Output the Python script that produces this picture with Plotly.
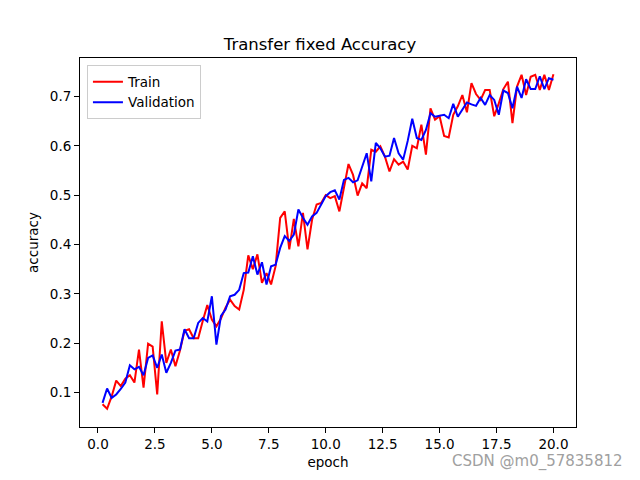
import plotly.graph_objects as go

epochs = [round(0.2 * i, 1) for i in range(1, 101)]

train_acc = [
    0.076, 0.067, 0.092, 0.124, 0.113, 0.128, 0.135, 0.120, 0.187, 0.110,
    0.199, 0.193, 0.096, 0.244, 0.160, 0.187, 0.153, 0.185, 0.225, 0.228,
    0.210, 0.210, 0.245, 0.277, 0.248, 0.234, 0.250, 0.272, 0.288, 0.275,
    0.268, 0.308, 0.378, 0.350, 0.380, 0.322, 0.342, 0.319, 0.356, 0.454,
    0.467, 0.390, 0.452, 0.396, 0.464, 0.390, 0.450, 0.481, 0.484, 0.500,
    0.494, 0.498, 0.467, 0.515, 0.563, 0.541, 0.499, 0.524, 0.514, 0.592,
    0.588, 0.599, 0.578, 0.548, 0.573, 0.562, 0.568, 0.552, 0.600, 0.595,
    0.643, 0.582, 0.676, 0.653, 0.660, 0.620, 0.617, 0.663, 0.680, 0.703,
    0.668, 0.727, 0.705, 0.693, 0.713, 0.713, 0.660, 0.686, 0.715, 0.730,
    0.646, 0.720, 0.744, 0.703, 0.740, 0.744, 0.713, 0.744, 0.713, 0.745,
]

val_acc = [
    0.079, 0.108, 0.089, 0.096, 0.107, 0.120, 0.155, 0.147, 0.152, 0.135,
    0.170, 0.175, 0.150, 0.177, 0.140, 0.160, 0.185, 0.187, 0.228, 0.210,
    0.210, 0.241, 0.251, 0.244, 0.295, 0.197, 0.255, 0.268, 0.295, 0.298,
    0.308, 0.342, 0.343, 0.376, 0.339, 0.364, 0.319, 0.356, 0.359, 0.393,
    0.417, 0.407, 0.420, 0.471, 0.454, 0.440, 0.457, 0.464, 0.481, 0.498,
    0.506, 0.510, 0.491, 0.531, 0.535, 0.526, 0.530, 0.560, 0.585, 0.528,
    0.606, 0.595, 0.578, 0.580, 0.616, 0.585, 0.572, 0.610, 0.655, 0.616,
    0.612, 0.632, 0.666, 0.659, 0.661, 0.663, 0.656, 0.685, 0.659, 0.673,
    0.688, 0.684, 0.681, 0.697, 0.683, 0.703, 0.693, 0.663, 0.712, 0.707,
    0.676, 0.720, 0.697, 0.735, 0.715, 0.715, 0.741, 0.715, 0.737, 0.734,
]

x_ticks = [0, 2.5, 5, 7.5, 10, 12.5, 15, 17.5, 20]
y_ticks = [0.1, 0.2, 0.3, 0.4, 0.5, 0.6, 0.7]

FONT = "DejaVu Sans"

fig = go.Figure()
fig.add_trace(go.Scatter(x=epochs, y=train_acc, mode="lines", name="Train",
                         line=dict(color="#ff0000", width=2)))
fig.add_trace(go.Scatter(x=epochs, y=val_acc, mode="lines", name="Validation",
                         line=dict(color="#0000ff", width=2)))

axis_common = dict(showgrid=False, zeroline=False, showline=True, linecolor="black",
                   linewidth=1, mirror=True, ticks="outside", ticklen=5, tickwidth=1,
                   tickcolor="black", tickfont=dict(family=FONT, size=13.5, color="black"))

fig.update_layout(
    width=640, height=480,
    margin=dict(l=80, r=64, t=57.6, b=52.8),
    paper_bgcolor="white", plot_bgcolor="white",
    font=dict(family=FONT, color="black"),
    title=dict(text="Transfer fixed Accuracy", x=0.5, xanchor="center",
               y=1 - 44 / 480, yanchor="middle", yref="container",
               font=dict(family=FONT, size=16.5, color="black")),
    xaxis=dict(range=[-0.79, 20.99], tickvals=x_ticks, tickformat=".1f",
               title=dict(text="epoch", font=dict(family=FONT, size=13.5), standoff=6),
               **axis_common),
    yaxis=dict(range=[0.030, 0.778], tickvals=y_ticks, tickformat=".1f",
               title=dict(text="accuracy", font=dict(family=FONT, size=13.5), standoff=8),
               **axis_common),
    legend=dict(x=0.014, y=0.98, xanchor="left", yanchor="top",
                bgcolor="rgba(255,255,255,0.8)", bordercolor="#cccccc", borderwidth=1,
                font=dict(family=FONT, size=13.5, color="black"),
                tracegroupgap=0, itemwidth=30),
    showlegend=True,
    annotations=[dict(text="CSDN @m0_57835812", xref="paper", yref="paper",
                      x=(625 - 80) / 496, y=(427.2 - 462) / 369.6,
                      xanchor="right", yanchor="middle", showarrow=False,
                      font=dict(family=FONT, size=15, color="#a0a0a0"))],
)

fig.write_html("out.html")
